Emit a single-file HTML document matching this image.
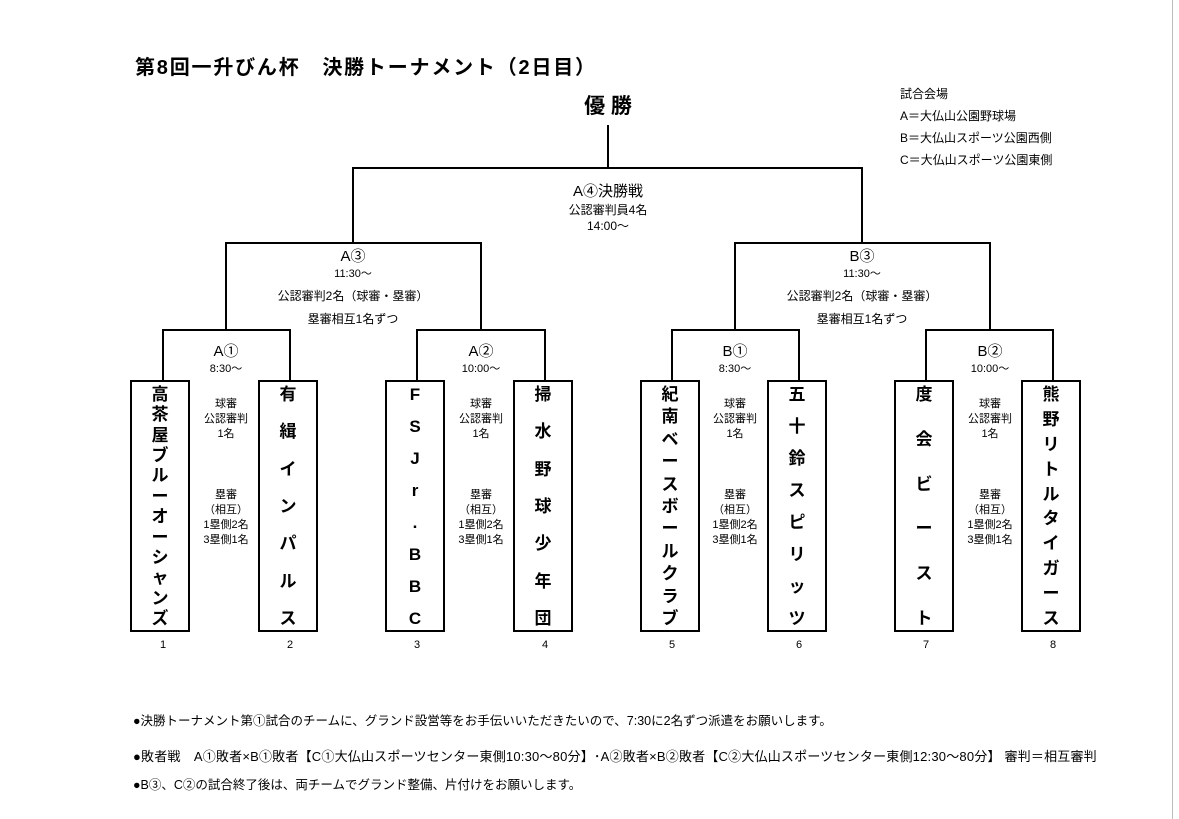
<!DOCTYPE html>
<html><head><meta charset="utf-8"><style>
body{margin:0;width:1179px;height:819px;background:#fff;position:relative;overflow:hidden;font-family:"Liberation Sans","Noto Sans CJK JP",sans-serif;color:#000}
.a{position:absolute;white-space:nowrap}
.c{position:absolute;transform:translateX(-50%);text-align:center;white-space:nowrap}
.l{position:absolute;background:#000}
.box{position:absolute;top:380px;width:60px;display:flex;flex-direction:column;justify-content:space-between;align-items:center;padding:4px 0 2px;box-sizing:border-box;height:252px;border:2px solid #000;font-weight:bold;font-size:17px;line-height:18px}
.m{font-size:11px;line-height:15px}
</style></head><body>
<div style="position:absolute;left:1172px;top:0;width:1px;height:819px;background:#bbb"></div>
<div class="a" style="left:135px;top:51px;font-size:20px;font-weight:bold;letter-spacing:1.8px">第8回一升びん杯　決勝トーナメント（2日目）</div>
<div class="c" style="left:608px;top:90px;font-size:21px;font-weight:bold">優 勝</div>
<div class="a" style="left:900px;top:83px;font-size:12px;line-height:22px">試合会場<br>A＝大仏山公園野球場<br>B＝大仏山スポーツ公園西側<br>C＝大仏山スポーツ公園東側</div>
<div class="l" style="left:607px;top:125px;width:2px;height:44px"></div>
<div class="l" style="left:352px;top:167px;width:511px;height:2px"></div>
<div class="l" style="left:352px;top:167px;width:2px;height:77px"></div>
<div class="l" style="left:861px;top:167px;width:2px;height:77px"></div>
<div class="l" style="left:225px;top:242px;width:257px;height:2px"></div>
<div class="l" style="left:734px;top:242px;width:257px;height:2px"></div>
<div class="l" style="left:225px;top:242px;width:2px;height:89px"></div>
<div class="l" style="left:480px;top:242px;width:2px;height:89px"></div>
<div class="l" style="left:734px;top:242px;width:2px;height:89px"></div>
<div class="l" style="left:989px;top:242px;width:2px;height:89px"></div>
<div class="l" style="left:162px;top:329px;width:129px;height:2px"></div>
<div class="l" style="left:416px;top:329px;width:130px;height:2px"></div>
<div class="l" style="left:671px;top:329px;width:129px;height:2px"></div>
<div class="l" style="left:925px;top:329px;width:129px;height:2px"></div>
<div class="l" style="left:162px;top:329px;width:2px;height:52px"></div>
<div class="l" style="left:289px;top:329px;width:2px;height:52px"></div>
<div class="l" style="left:416px;top:329px;width:2px;height:52px"></div>
<div class="l" style="left:544px;top:329px;width:2px;height:52px"></div>
<div class="l" style="left:671px;top:329px;width:2px;height:52px"></div>
<div class="l" style="left:798px;top:329px;width:2px;height:52px"></div>
<div class="l" style="left:925px;top:329px;width:2px;height:52px"></div>
<div class="l" style="left:1052px;top:329px;width:2px;height:52px"></div>
<div class="c" style="left:608px;top:180px;font-size:15px">A④決勝戦</div>
<div class="c" style="left:608px;top:202px;font-size:12px;line-height:16px">公認審判員4名<br>14:00〜</div>
<div class="c" style="left:353px;top:245px;font-size:15px">A③</div>
<div class="c" style="left:353px;top:265px;font-size:11px">11:30〜</div>
<div class="c" style="left:353px;top:287px;font-size:12px">公認審判2名（球審・塁審）</div>
<div class="c" style="left:353px;top:310px;font-size:12px">塁審相互1名ずつ</div>
<div class="c" style="left:862px;top:245px;font-size:15px">B③</div>
<div class="c" style="left:862px;top:265px;font-size:11px">11:30〜</div>
<div class="c" style="left:862px;top:287px;font-size:12px">公認審判2名（球審・塁審）</div>
<div class="c" style="left:862px;top:310px;font-size:12px">塁審相互1名ずつ</div>
<div class="c" style="left:226px;top:340px;font-size:15px">A①</div><div class="c" style="left:226px;top:360px;font-size:11px">8:30〜</div>
<div class="c" style="left:481px;top:340px;font-size:15px">A②</div><div class="c" style="left:481px;top:360px;font-size:11px">10:00〜</div>
<div class="c" style="left:735px;top:340px;font-size:15px">B①</div><div class="c" style="left:735px;top:360px;font-size:11px">8:30〜</div>
<div class="c" style="left:990px;top:340px;font-size:15px">B②</div><div class="c" style="left:990px;top:360px;font-size:11px">10:00〜</div>
<div class="c m" style="left:226px;top:397px">球審<br>公認審判<br>1名</div><div class="c m" style="left:226px;top:488px">塁審<br>（相互）<br>1塁側2名<br>3塁側1名</div>
<div class="c m" style="left:481px;top:397px">球審<br>公認審判<br>1名</div><div class="c m" style="left:481px;top:488px">塁審<br>（相互）<br>1塁側2名<br>3塁側1名</div>
<div class="c m" style="left:735px;top:397px">球審<br>公認審判<br>1名</div><div class="c m" style="left:735px;top:488px">塁審<br>（相互）<br>1塁側2名<br>3塁側1名</div>
<div class="c m" style="left:990px;top:397px">球審<br>公認審判<br>1名</div><div class="c m" style="left:990px;top:488px">塁審<br>（相互）<br>1塁側2名<br>3塁側1名</div>
<div class="box" style="left:130px"><span>高</span><span>茶</span><span>屋</span><span>ブ</span><span>ル</span><span>ー</span><span>オ</span><span>ー</span><span>シ</span><span>ャ</span><span>ン</span><span>ズ</span></div>
<div class="box" style="left:258px"><span>有</span><span>緝</span><span>イ</span><span>ン</span><span>パ</span><span>ル</span><span>ス</span></div>
<div class="box" style="left:385px"><span>F</span><span>S</span><span>J</span><span>r</span><span>.</span><span>B</span><span>B</span><span>C</span></div>
<div class="box" style="left:513px"><span>掃</span><span>水</span><span>野</span><span>球</span><span>少</span><span>年</span><span>団</span></div>
<div class="box" style="left:640px"><span>紀</span><span>南</span><span>ベ</span><span>ー</span><span>ス</span><span>ボ</span><span>ー</span><span>ル</span><span>ク</span><span>ラ</span><span>ブ</span></div>
<div class="box" style="left:767px"><span>五</span><span>十</span><span>鈴</span><span>ス</span><span>ピ</span><span>リ</span><span>ッ</span><span>ツ</span></div>
<div class="box" style="left:894px"><span>度</span><span>会</span><span>ビ</span><span>ー</span><span>ス</span><span>ト</span></div>
<div class="box" style="left:1021px"><span>熊</span><span>野</span><span>リ</span><span>ト</span><span>ル</span><span>タ</span><span>イ</span><span>ガ</span><span>ー</span><span>ス</span></div>
<div class="c" style="left:163px;top:639px;font-size:11px">1</div>
<div class="c" style="left:290px;top:639px;font-size:11px">2</div>
<div class="c" style="left:417px;top:639px;font-size:11px">3</div>
<div class="c" style="left:545px;top:639px;font-size:11px">4</div>
<div class="c" style="left:672px;top:639px;font-size:11px">5</div>
<div class="c" style="left:799px;top:639px;font-size:11px">6</div>
<div class="c" style="left:926px;top:639px;font-size:11px">7</div>
<div class="c" style="left:1053px;top:639px;font-size:11px">8</div>
<div class="a" style="left:133px;top:710px;font-size:12.5px">●決勝トーナメント第①試合のチームに、グランド設営等をお手伝いいただきたいので、7:30に2名ずつ派遣をお願いします。</div>
<div class="a" style="left:133px;top:746px;font-size:13px;letter-spacing:0.2px">●敗者戦　A①敗者×B①敗者【C①大仏山スポーツセンター東側10:30〜80分】･A②敗者×B②敗者【C②大仏山スポーツセンター東側12:30〜80分】 審判＝相互審判</div>
<div class="a" style="left:133px;top:774px;font-size:12.5px">●B③、C②の試合終了後は、両チームでグランド整備、片付けをお願いします。</div>
</body></html>
